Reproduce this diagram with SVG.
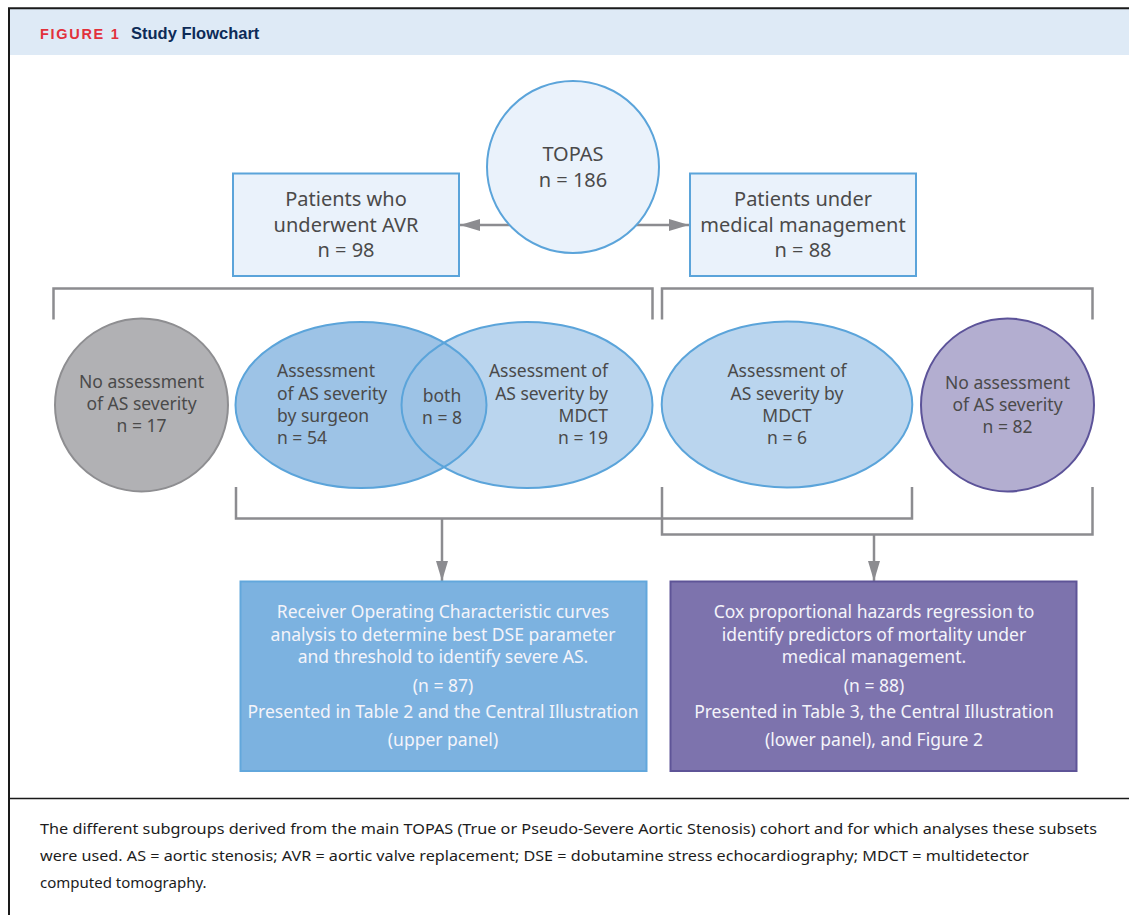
<svg xmlns="http://www.w3.org/2000/svg" width="1129" height="915" viewBox="0 0 1129 915">
<style>
.t{font-family:"Noto Sans","Liberation Sans",sans-serif;fill:#4a4a4a;font-size:17.5px}
.big{font-size:20px}
.w{fill:#f4f4fa;font-size:17.5px}
.cap{font-family:"Noto Sans","Liberation Sans",sans-serif;fill:#1c1c1c;font-size:15px}
.c{text-anchor:middle}
.r{text-anchor:end}
.ln{fill:none;stroke:#8c8c90;stroke-width:2.5}
.bl{fill:#eaf2fb;stroke:#5ba4da;stroke-width:2}
</style>
<defs>
<marker id="ah" viewBox="0 0 20 12" refX="20" refY="6" markerWidth="20" markerHeight="12" markerUnits="userSpaceOnUse" orient="auto">
<path d="M0,0 L20,6 L0,12 Z" fill="#8c8c90"/>
</marker>
</defs>
<rect x="0" y="0" width="1129" height="915" fill="#ffffff"/>
<g id="frame">
<rect x="9" y="9" width="1120" height="46" fill="#deeaf6"/>
<line x1="8" y1="8.3" x2="1129" y2="8.3" stroke="#1a1a1a" stroke-width="2"/>
<line x1="9" y1="8" x2="9" y2="915" stroke="#1a1a1a" stroke-width="2"/>
<line x1="9" y1="798.5" x2="1129" y2="798.5" stroke="#1a1a1a" stroke-width="1.5"/>
<text x="40" y="39" font-family="'Liberation Sans',Arial,sans-serif" font-weight="bold" font-size="14.5" letter-spacing="1.7" fill="#e2313b">FIGURE 1</text>
<text x="131" y="39" font-family="'Liberation Sans',Arial,sans-serif" font-weight="bold" font-size="16.5" fill="#0d2b58">Study Flowchart</text>
</g>
<g id="connectors">
<line class="ln" x1="512" y1="225" x2="460" y2="225" marker-end="url(#ah)" stroke-width="3"/>
<line class="ln" x1="634" y1="225" x2="689" y2="225" marker-end="url(#ah)" stroke-width="3"/>
<polyline class="ln" points="53.5,319.5 53.5,288.5 652.5,288.5 652.5,319.5"/>
<polyline class="ln" points="662,319.5 662,288.5 1092.5,288.5 1092.5,319.5"/>
<polyline class="ln" points="236,487 236,518.5 912,518.5 912,487"/>
<polyline class="ln" points="662,487 662,534.5 1092.5,534.5 1092.5,487"/>
<line class="ln" x1="442" y1="518.5" x2="442" y2="581" marker-end="url(#ah)"/>
<line class="ln" x1="874" y1="534.5" x2="874" y2="581" marker-end="url(#ah)"/>
</g>
<g id="topas">
<circle class="bl" cx="573" cy="167" r="86"/>
<text class="t big c" x="573" y="161" font-size="21">TOPAS</text>
<text class="t big c" x="573" y="187">n = 186</text>
</g>
<g id="avr">
<rect class="bl" x="233" y="173.5" width="226" height="102.5"/>
<text class="t big c" x="346" y="206">Patients who</text>
<text class="t big c" x="346" y="231.5">underwent AVR</text>
<text class="t big c" x="346" y="257">n = 98</text>
</g>
<g id="medical">
<rect class="bl" x="690" y="173.5" width="226" height="102.5"/>
<text class="t big c" x="803" y="206">Patients under</text>
<text class="t big c" x="803" y="231.5">medical management</text>
<text class="t big c" x="803" y="257">n = 88</text>
</g>
<g id="no-assess-avr">
<circle cx="141.5" cy="405" r="86.5" fill="#b1b1b4" stroke="#8e8e91" stroke-width="2"/>
<text class="t c" x="141.5" y="388">No assessment</text>
<text class="t c" x="141.5" y="410">of AS severity</text>
<text class="t c" x="141.5" y="432">n = 17</text>
</g>
<g id="venn">
<ellipse cx="527" cy="405" rx="125.5" ry="83" fill="#bad5ee"/>
<ellipse cx="361" cy="405" rx="125.5" ry="83" fill="#9dc3e6" stroke="#5ba4da" stroke-width="2"/>
<ellipse cx="527" cy="405" rx="125.5" ry="83" fill="none" stroke="#5ba4da" stroke-width="2"/>
<g id="surgeon">
<text class="t" x="277" y="377">Assessment</text>
<text class="t" x="277" y="399.5">of AS severity</text>
<text class="t" x="277" y="421.5">by surgeon</text>
<text class="t" x="277" y="443.5">n = 54</text>
</g>
<g id="both">
<text class="t c" x="442" y="401.5">both</text>
<text class="t c" x="442" y="423.5">n = 8</text>
</g>
<g id="mdct-avr">
<text class="t r" x="608" y="377">Assessment of</text>
<text class="t r" x="608" y="399.5">AS severity by</text>
<text class="t r" x="608" y="421.5">MDCT</text>
<text class="t r" x="608" y="443.5">n = 19</text>
</g>
</g>
<g id="mdct-medical">
<ellipse cx="787" cy="404.5" rx="125.3" ry="83" fill="#bad5ee" stroke="#5ba4da" stroke-width="2"/>
<text class="t c" x="787" y="377">Assessment of</text>
<text class="t c" x="787" y="399.5">AS severity by</text>
<text class="t c" x="787" y="421.5">MDCT</text>
<text class="t c" x="787" y="443.5">n = 6</text>
</g>
<g id="no-assess-medical">
<circle cx="1007.5" cy="405" r="86.5" fill="#b3aed0" stroke="#5c5399" stroke-width="2"/>
<text class="t c" x="1007.5" y="389">No assessment</text>
<text class="t c" x="1007.5" y="411">of AS severity</text>
<text class="t c" x="1007.5" y="433">n = 82</text>
</g>
<g id="roc">
<rect x="240.5" y="581.5" width="406" height="189.5" fill="#7cb2e0" stroke="#62a7dc" stroke-width="2"/>
<text class="t w c" x="443" y="618">Receiver Operating Characteristic curves</text>
<text class="t w c" x="443" y="641">analysis to determine best DSE parameter</text>
<text class="t w c" x="443" y="663">and threshold to identify severe AS.</text>
<text class="t w c" x="443" y="692">(n = 87)</text>
<text class="t w c" x="443" y="718">Presented in Table 2 and the Central Illustration</text>
<text class="t w c" x="443" y="746">(upper panel)</text>
</g>
<g id="cox">
<rect x="670.5" y="581.5" width="406" height="189.5" fill="#7d73ad" stroke="#5e5497" stroke-width="2"/>
<text class="t w c" x="874" y="618">Cox proportional hazards regression to</text>
<text class="t w c" x="874" y="641">identify predictors of mortality under</text>
<text class="t w c" x="874" y="663">medical management.</text>
<text class="t w c" x="874" y="692">(n = 88)</text>
<text class="t w c" x="874" y="718">Presented in Table 3, the Central Illustration</text>
<text class="t w c" x="874" y="746">(lower panel), and Figure 2</text>
</g>
<g id="caption">
<text class="cap" x="40" y="834" textLength="1057" lengthAdjust="spacingAndGlyphs">The different subgroups derived from the main TOPAS (True or Pseudo-Severe Aortic Stenosis) cohort and for which analyses these subsets</text>
<text class="cap" x="40" y="861" textLength="989" lengthAdjust="spacingAndGlyphs">were used. AS = aortic stenosis; AVR = aortic valve replacement; DSE = dobutamine stress echocardiography; MDCT = multidetector</text>
<text class="cap" x="40" y="888">computed tomography.</text>
</g>
</svg>
